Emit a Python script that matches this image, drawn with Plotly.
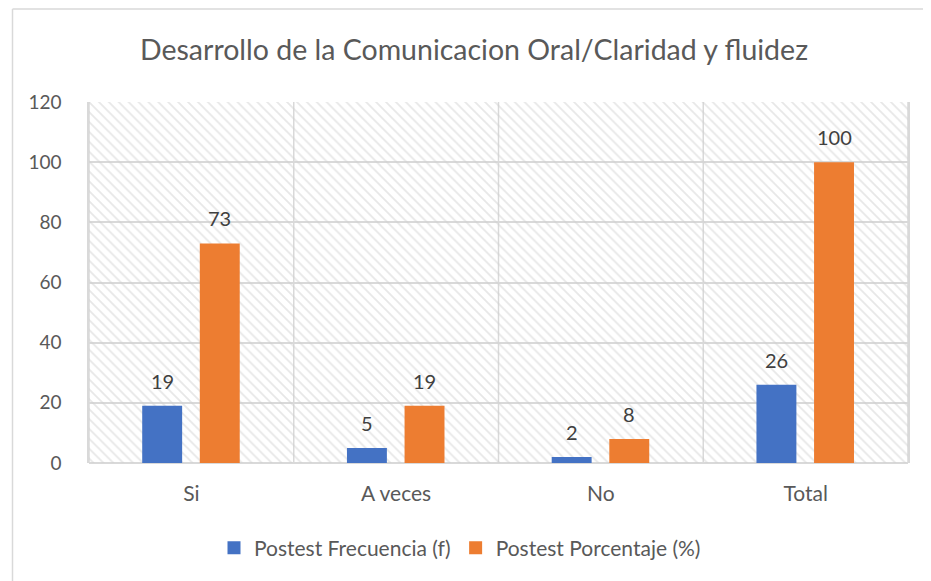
import plotly.graph_objects as go

categories = ["Si", "A veces", "No", "Total"]
frecuencia = [19, 5, 2, 26]
porcentaje = [73, 19, 8, 100]
y_ticks = [0, 20, 40, 60, 80, 100, 120]
series_names = ["Postest Frecuencia (f)", "Postest Porcentaje (%)"]
series_colors = ["#4472c4", "#ed7d31"]

FONT = "Lato"
GRAY_TXT = "#595959"
LABEL_TXT = "#404040"
GRID = "#d9d9d9"

W, H = 923, 573
ML, MT, MR, MB = 81, 94, 23, 118
PW, PH = W - ML - MR, H - MT - MB

xs = list(range(len(categories)))
n = len(categories)
bar_w = 0.195
centers = [-0.1426, 0.1387]

fig = go.Figure()

# hatched plot-area background (base subplot, below overlay bars)
fig.add_trace(go.Scatter(
    x=[-0.5, n - 0.5, n - 0.5, -0.5, -0.5],
    y=[0, 0, 120, 120, 0],
    xaxis="x", yaxis="y",
    fill="toself", mode="none", hoverinfo="skip", showlegend=False,
    fillcolor="rgba(0,0,0,0)",
    fillpattern=dict(shape="\\", fgcolor="#cfcfcf", bgcolor="rgba(0,0,0,0)",
                     size=7, solidity=0.25),
))

annotations = []
for vals, name, color, c in zip([frecuencia, porcentaje], series_names, series_colors, centers):
    fig.add_trace(go.Bar(
        x=xs, y=vals, name=name, marker_color=color, marker_line_width=0,
        width=bar_w, offset=c - bar_w / 2, xaxis="x2", yaxis="y2",
        showlegend=False, hoverinfo="y",
    ))
    # legend swatch
    fig.add_trace(go.Scatter(
        x=[None], y=[None], mode="markers", name=name, xaxis="x2", yaxis="y2",
        marker=dict(symbol="square", size=13, color=color),
    ))
    for xi, v in zip(xs, vals):
        annotations.append(dict(
            x=xi + c, y=v, xref="x2", yref="y2", text=str(v), showarrow=False,
            yanchor="middle", yshift=25,
            font=dict(family=FONT, size=20, color=LABEL_TXT),
        ))

shapes = []
for b in range(n + 1):
    shapes.append(dict(type="line", xref="x", yref="paper", x0=b - 0.5, x1=b - 0.5,
                       y0=0, y1=1, line=dict(color=GRID, width=1.5), layer="below"))
# outer chart border (only top and left visible)
bx = (4.5 - ML) / PW
by = 1 + (MT - 1) / PH
shapes.append(dict(type="line", xref="paper", yref="paper", x0=bx, x1=bx,
                   y0=-MB / PH, y1=by, line=dict(color="#d9d9d9", width=1.5)))
shapes.append(dict(type="line", xref="paper", yref="paper", x0=bx, x1=(W - ML) / PW,
                   y0=by, y1=by, line=dict(color="#d9d9d9", width=1.5)))

fig.update_layout(
    width=W, height=H,
    paper_bgcolor="white", plot_bgcolor="white",
    margin=dict(l=ML, r=MR, t=MT, b=MB),
    title=dict(text="Desarrollo de la Comunicacion Oral/Claridad y fluidez",
               x=466 / W, xanchor="center", y=1 - 42 / H, yanchor="middle",
               font=dict(family=FONT, size=28.5, color=GRAY_TXT)),
    barmode="overlay",
    font=dict(family=FONT, color=GRAY_TXT),
    xaxis=dict(range=[-0.5, n - 0.5], tickvals=xs, ticktext=categories,
               showgrid=False, zeroline=False, showline=False, ticks="",
               ticklabelstandoff=16,
               tickfont=dict(family=FONT, size=21, color=GRAY_TXT)),
    yaxis=dict(range=[0, 120], tickvals=y_ticks, showgrid=True, gridcolor=GRID, gridwidth=1.5,
               zeroline=True, zerolinecolor=GRID, zerolinewidth=1.5, ticks="",
               showline=True, linecolor=GRID, linewidth=1.5, mirror=True,
               ticklabelstandoff=22,
               tickfont=dict(family=FONT, size=19, color=GRAY_TXT)),
    xaxis2=dict(range=[-0.5, n - 0.5], overlaying="x", visible=False),
    yaxis2=dict(range=[0, 120], overlaying="y", visible=False),
    legend=dict(orientation="h", x=(452 - ML) / PW, xanchor="center",
                y=-(540 - (H - MB)) / PH, yanchor="middle",
                font=dict(family=FONT, size=21, color=GRAY_TXT), traceorder="normal",
                itemwidth=30),
    annotations=annotations,
    shapes=shapes,
)

fig.write_html("out.html")
